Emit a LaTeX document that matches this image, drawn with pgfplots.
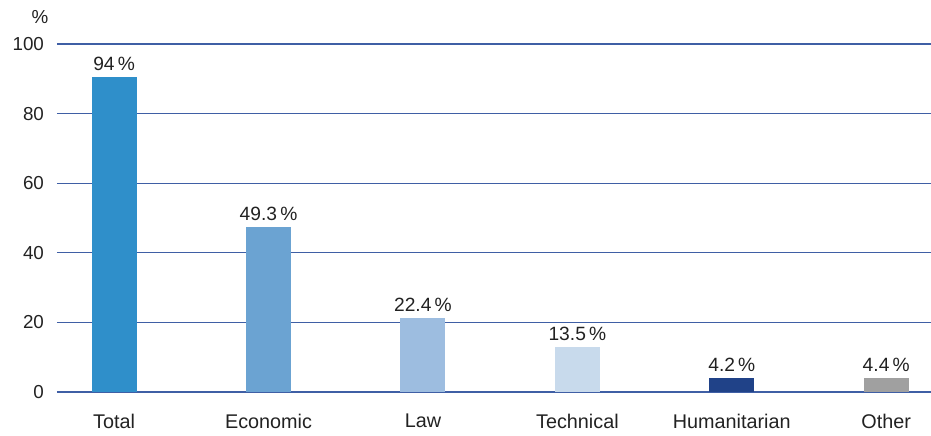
\documentclass[border=0pt]{standalone}
\usepackage{pgfplots}
\pgfplotsset{compat=1.18}
\usepackage{fontspec}
\setmainfont{Liberation Sans}
\definecolor{cTotal}{HTML}{2F8FCA}
\definecolor{cEcon}{HTML}{6BA3D2}
\definecolor{cLaw}{HTML}{9DBDE0}
\definecolor{cTech}{HTML}{C8DAEC}
\definecolor{cHum}{HTML}{204288}
\definecolor{cOther}{HTML}{A0A0A0}
\definecolor{cGrid}{HTML}{3F5FA5}
\definecolor{cText}{HTML}{222222}
\begin{document}
\begin{tikzpicture}
\begin{axis}[
  name=ax,
  scale only axis,
  width=437pt, height=174pt,
  xmin=-0.37, xmax=5.29,
  ymin=0, ymax=100,
  ytick={0,20,40,60,80,100},
  xtick={0,1,2,3,4,5},
  xticklabels={Total,Economic,Law,Technical,Humanitarian,Other},
  axis line style={draw=none},
  major tick length=0pt,
  ymajorgrids,
  grid style={cGrid, line width=0.6pt},
  tick label style={font=\fontsize{9.4}{11}\selectfont, text=cText},
  /pgf/number format/assume math mode=true,
  yticklabel style={anchor=east, xshift=-3pt},
  xticklabel style={font=\fontsize{9.9}{12}\selectfont, yshift=-7.5pt},
  ybar, bar width=22.5pt, bar shift=0pt,
  point meta=explicit symbolic,
  nodes near coords,
  every node near coord/.append style={font=\fontsize{9.6}{11}\selectfont, text=cText, inner sep=1pt, yshift=2pt},
  clip=false,
]
\addplot[fill=cTotal, draw=none] coordinates {(0,90.5) [94\,\%]};
\addplot[fill=cEcon, draw=none] coordinates {(1,47.4) [49.3\,\%]};
\addplot[fill=cLaw, draw=none] coordinates {(2,21.3) [22.4\,\%]};
\addplot[fill=cTech, draw=none] coordinates {(3,12.9) [13.5\,\%]};
\addplot[fill=cHum, draw=none] coordinates {(4,4.0) [4.2\,\%]};
\addplot[fill=cOther, draw=none] coordinates {(5,4.0) [4.4\,\%]};
\end{axis}
\node[font=\fontsize{9.4}{11}\selectfont, text=cText] at ([xshift=-8.5pt, yshift=13.5pt]ax.north west) {\%};
\pgfresetboundingbox
\path[use as bounding box] ([xshift=-28.5pt,yshift=-21.5pt]ax.south west) rectangle ([yshift=22pt]ax.north east);
\end{tikzpicture}
\end{document}
